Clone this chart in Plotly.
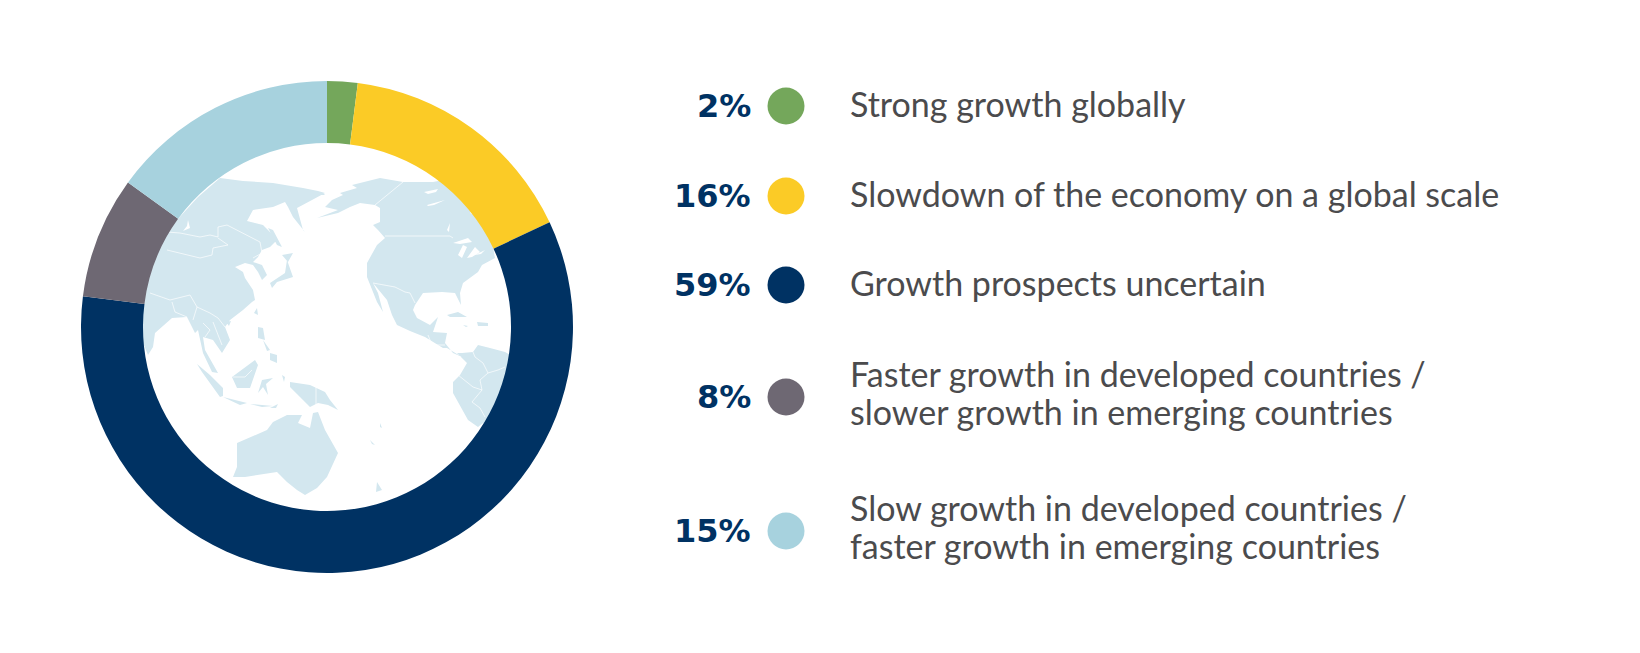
import plotly.graph_objects as go

W = 1640
H = 653
PAGE_MARGIN = 8  # the browser's default body margin

categories = [
    "Strong growth globally",
    "Slowdown of the economy on a global scale",
    "Growth prospects uncertain",
    "Faster growth in developed countries /<br>slower growth in emerging countries",
    "Slow growth in developed countries /<br>faster growth in emerging countries",
]
shares = [2, 16, 59, 8, 15]
colors = ["#74a75b", "#fbcb26", "#003263", "#6e6873", "#a7d2de"]

# rows of the key, in pixels
row_y = [106, 196, 285, 397, 531]
text_y = [103, 193, 282, 392, 526]
LINE_GAP = 38

LAND = "#d3e7ef"

# background world map, traced by hand in page pixels (it is only decoration)
land_shapes = [
    # Asia
    [(220, 178), (243, 181), (273, 183), (303, 188), (318, 191), (325, 193), (312, 200), (297, 208), (303, 230),
     (305, 232), (293, 217), (288, 207), (285, 202), (273, 207), (253, 210), (247, 221), (263, 225), (268, 230),
     (277, 240), (270, 247), (262, 250), (258, 257), (253, 262), (262, 265), (267, 275), (262, 280), (258, 272),
     (253, 265), (245, 263), (235, 267), (243, 272), (245, 278), (253, 290), (255, 300), (252, 302), (243, 310),
     (230, 320), (225, 327), (230, 340), (222, 353), (213, 340), (203, 337), (205, 350), (218, 373), (212, 372),
     (203, 353), (198, 330), (195, 333), (187, 317), (172, 318), (155, 333), (153, 347), (148, 355), (143, 343),
     (142, 317), (145, 290), (150, 267), (165, 235), (177, 220), (198, 197)],
    # Japan
    [(282, 255), (293, 253), (288, 262)],
    [(287, 260), (293, 277), (277, 282), (272, 288), (270, 283), (285, 273)],
    # Sakhalin
    [(268, 228), (273, 230), (282, 247), (277, 245)],
    # Taiwan, Hainan
    [(257, 308), (258, 315), (254, 313)],
    [(226, 322), (231, 321), (229, 326)],
    # Philippines
    [(258, 327), (263, 328), (265, 340), (258, 338)],
    [(263, 340), (270, 350), (267, 351)],
    [(270, 353), (277, 355), (277, 363), (270, 360)],
    # Borneo, Sumatra, Java, Sunda, Sulawesi, Moluccas
    [(232, 377), (255, 360), (258, 365), (250, 388), (237, 388)],
    [(197, 364), (210, 375), (223, 388), (223, 396), (220, 397), (202, 372)],
    [(223, 397), (247, 403), (240, 405)],
    [(250, 404), (262, 405), (273, 406), (262, 407)],
    [(270, 408), (278, 404), (276, 408)],
    [(262, 380), (273, 378), (266, 384), (268, 395), (263, 387), (258, 393)],
    [(282, 375), (285, 377), (284, 382)],
    # New Guinea
    [(290, 382), (310, 385), (325, 392), (330, 400), (338, 410), (328, 405), (318, 403), (310, 407), (300, 397),
     (290, 387)],
    # Australia, Tasmania
    [(237, 443), (267, 430), (273, 422), (287, 415), (302, 415), (298, 423), (310, 428), (313, 413), (318, 412),
     (325, 430), (338, 453), (327, 477), (317, 488), (305, 495), (297, 490), (287, 482), (277, 472), (245, 477),
     (233, 477), (237, 467)],
    # Pacific islands
    [(370, 440), (375, 445), (372, 444)],
    [(380, 423), (382, 428), (380, 427)],
    [(377, 482), (382, 490), (376, 492)],
    # North America
    [(352, 185), (380, 178), (403, 182), (433, 182), (470, 175), (510, 225), (500, 250), (493, 247), (495, 258),
     (482, 265), (478, 272), (463, 283), (460, 293), (461, 305), (455, 293), (442, 292), (423, 293), (415, 305),
     (413, 310), (417, 318), (430, 325), (438, 317), (433, 332), (447, 333), (445, 343), (453, 353), (462, 357),
     (447, 348), (443, 348), (425, 337), (410, 331), (397, 325), (392, 315), (387, 300), (373, 283), (378, 293),
     (383, 312), (377, 302), (367, 277), (367, 263), (377, 245), (385, 238), (378, 230), (373, 225), (380, 222),
     (380, 208), (375, 205), (360, 203), (350, 207), (338, 213), (317, 218), (338, 210), (325, 207), (332, 200),
     (343, 195), (340, 193), (357, 188)],
    # South America
    [(457, 353), (462, 353), (473, 352), (478, 345), (490, 348), (505, 352), (520, 360), (505, 420), (483, 423),
     (478, 427), (468, 420), (453, 393), (453, 382), (460, 375), (467, 363)],
    # Caribbean
    [(447, 315), (458, 312), (467, 317), (450, 317)],
    [(477, 322), (488, 323), (488, 326), (478, 326)],
    [(463, 325), (468, 326), (466, 327)],
    # Chukchi side of Alaska
    [(310, 190), (322, 192), (325, 195), (310, 194)],
]

# lakes and seas cut out of the land
water_shapes = [
    [(188, 220), (190, 228), (183, 231), (187, 226)],
    [(424, 192), (438, 189), (436, 192), (428, 194)],
    [(427, 205), (445, 200), (434, 205), (428, 206)],
    [(447, 230), (450, 223), (449, 232)],
    [(453, 243), (468, 238), (472, 242), (460, 244)],
    [(458, 255), (463, 245), (467, 247), (462, 258)],
    [(467, 258), (475, 247), (480, 252), (472, 257)],
    [(475, 255), (485, 250), (481, 254)],
    [(470, 213), (478, 205), (482, 218)],
]

# country borders, same units
border_lines = [
    [(167, 232), (180, 233), (200, 237), (210, 235), (218, 237), (218, 227), (227, 225), (250, 237), (260, 242),
     (262, 253), (253, 258)],
    [(167, 250), (180, 253), (200, 258), (212, 255), (213, 248), (228, 245), (218, 238)],
    [(150, 293), (170, 300), (190, 295), (197, 307), (193, 320)],
    [(172, 302), (175, 312), (187, 317)],
    [(197, 307), (210, 313), (218, 318), (225, 327)],
    [(203, 323), (210, 330), (205, 337)],
    [(213, 322), (218, 335), (222, 345)],
    [(385, 236), (450, 236), (453, 238)],
    [(403, 182), (375, 205)],
    [(373, 283), (395, 287), (405, 292), (410, 293), (415, 303)],
    [(428, 335), (432, 345), (445, 345)],
    [(458, 375), (467, 382), (473, 387), (482, 390), (472, 402), (480, 408), (485, 417)],
    [(473, 352), (475, 357), (483, 363), (488, 373), (480, 380), (482, 390)],
    [(488, 373), (498, 370), (505, 367)],
    [(233, 377), (245, 377), (252, 370)],
    [(316, 386), (316, 405)],
]


def to_xy(shapes):
    xs, ys = [], []
    for shape in shapes:
        xs += [p[0] for p in shape] + [None]
        ys += [p[1] for p in shape] + [None]
    return xs, ys


plot_w = W - 2 * PAGE_MARGIN
plot_h = H - 2 * PAGE_MARGIN

fig = go.Figure()

land_x, land_y = to_xy(land_shapes)
fig.add_trace(go.Scatter(x=land_x, y=land_y, mode="none", fill="toself", fillcolor=LAND, hoverinfo="skip"))

water_x, water_y = to_xy(water_shapes)
fig.add_trace(go.Scatter(x=water_x, y=water_y, mode="none", fill="toself", fillcolor="white", hoverinfo="skip"))

border_x, border_y = to_xy(border_lines)
fig.add_trace(go.Scatter(x=border_x, y=border_y, mode="lines", line=dict(color="rgba(255,255,255,0.85)", width=0.8),
                         hoverinfo="skip"))

fig.add_trace(go.Pie(
    values=shares,
    labels=[c.replace("<br>", " ") for c in categories],
    marker=dict(colors=colors, line=dict(width=0)),
    hole=0.748,
    sort=False,
    direction="clockwise",
    rotation=0,
    textinfo="none",
    domain=dict(
        x=[(81 - PAGE_MARGIN) / plot_w, (573 - PAGE_MARGIN) / plot_w],
        y=[1 - (573 - PAGE_MARGIN) / plot_h, 1 - (81 - PAGE_MARGIN) / plot_h],
    ),
))

# key dots
fig.add_trace(go.Scatter(
    x=[786] * len(row_y),
    y=row_y,
    mode="markers",
    marker=dict(size=37, color=colors, line=dict(width=0)),
    hoverinfo="skip",
))

for i in range(len(categories)):
    fig.add_annotation(x=753, y=row_y[i], text=str(shares[i]) + "%", showarrow=False, xanchor="right", yanchor="middle",
                       font=dict(family="DejaVu Sans", size=32, color="#003263", weight="bold"))
    # each text line gets its own annotation, the original leading is tighter than plotly's
    lines = categories[i].split("<br>")
    for j in range(len(lines)):
        line_y = text_y[i] + (j - (len(lines) - 1) / 2) * LINE_GAP
        fig.add_annotation(x=848, y=line_y, text=lines[j], showarrow=False, xanchor="left", yanchor="middle",
                           align="left", font=dict(family="Lato", size=34, color="#4b4b4d"))

fig.update_layout(
    width=plot_w,
    height=plot_h,
    margin=dict(l=0, r=0, t=0, b=0),
    paper_bgcolor="white",
    plot_bgcolor="white",
    showlegend=False,
    xaxis=dict(range=[PAGE_MARGIN, W - PAGE_MARGIN], visible=False, fixedrange=True),
    yaxis=dict(range=[H - PAGE_MARGIN, PAGE_MARGIN], visible=False, fixedrange=True),
)

fig.write_html("out.html")
